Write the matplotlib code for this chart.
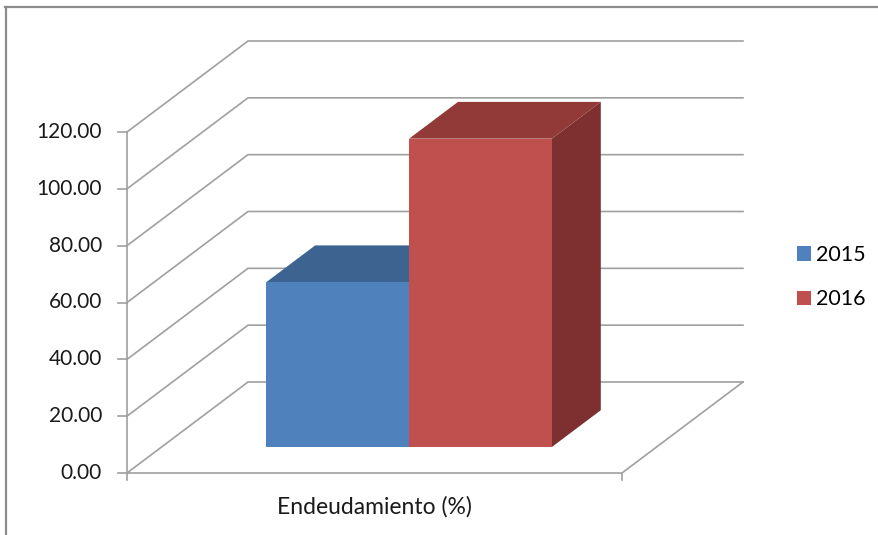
import numpy as np
import matplotlib
matplotlib.use("Agg")
import matplotlib.pyplot as plt
from matplotlib.patches import Polygon, Patch
from matplotlib.lines import Line2D

plt.rcParams['font.family'] = ['Lato', 'DejaVu Sans']

# data
category = "Endeudamiento (%)"
series = ["2015", "2016"]
values = [58.0, 108.5]
ticks = [0, 20, 40, 60, 80, 100, 120]
tick_labels = ["%.2f" % t for t in ticks]

front_cols = ["#4F81BD", "#C0504D"]
top_cols = ["#3D6390", "#913A38"]
side_cols = ["#335581", "#7D302F"]
grid_col = "#A0A0A0"

# layout in pixels (figure 879x535)
W, H = 879, 535
X0, Y0 = 127, 473          # front-left corner of the floor
PX_CAT = 495               # width of the category on the front plane
PX_VAL = 341 / 120.0       # pixels per value unit
DEPTH_PX_X, DEPTH_PX_Y = 121, 91

depth_x = DEPTH_PX_X / PX_CAT
depth_v = DEPTH_PX_Y / PX_VAL


def proj(x, v, d):
    # oblique projection: depth d in [0, 1]
    return (x + d * depth_x, v + d * depth_v)


fig = plt.figure(figsize=(W / 100, H / 100), dpi=100)
ax = fig.add_axes([0, 0, 1, 1])
ax.set_xlim(-X0 / PX_CAT, (W - X0) / PX_CAT)
ax.set_ylim(-(H - Y0) / PX_VAL, Y0 / PX_VAL)
ax.axis("off")

lw = 1.2
# walls: back wall gridlines and side wall lines
for t, lab in zip(ticks, tick_labels):
    a = proj(0, t, 0)
    b = proj(0, t, 1)
    c = proj(1, t, 1)
    ax.plot([a[0], b[0], c[0]], [a[1], b[1], c[1]], color=grid_col, lw=lw, zorder=1,
            solid_joinstyle="miter")
    # tick mark on the value axis
    ax.plot([a[0] - 9 / PX_CAT, a[0]], [a[1], a[1]], color=grid_col, lw=lw, zorder=1)
    ax.text(a[0] - 25 / PX_CAT, a[1], lab, ha="right", va="center",
            fontsize=15, color="#1a1a1a")

# value axis and floor
p = [proj(0, ticks[-1], 0), proj(0, 0, 0), proj(1, 0, 0), proj(1, 0, 1)]
ax.plot([q[0] for q in p], [q[1] for q in p], color=grid_col, lw=lw, zorder=1,
        solid_joinstyle="miter")
for xx in [0, 1]:
    ax.plot([xx, xx], [0, -7 / PX_VAL], color=grid_col, lw=lw, zorder=1)

# bars
bar_w = 0.2885
d0, d1 = 0.286, 0.69
lefts = [0.5 - bar_w, 0.5]
for i, (v, l) in enumerate(zip(values, lefts)):
    r = l + bar_w
    side = [proj(r, 0, d0), proj(r, 0, d1), proj(r, v, d1), proj(r, v, d0)]
    top = [proj(l, v, d0), proj(r, v, d0), proj(r, v, d1), proj(l, v, d1)]
    front = [proj(l, 0, d0), proj(r, 0, d0), proj(r, v, d0), proj(l, v, d0)]
    z = 3 + i
    ax.add_patch(Polygon(side, closed=True, fc=side_cols[i], ec="none", zorder=z))
    ax.add_patch(Polygon(top, closed=True, fc=top_cols[i], ec="none", zorder=z))
    ax.add_patch(Polygon(front, closed=True, fc=front_cols[i], ec="none", zorder=z))

# category label
ax.text(0.5, -(507 - Y0) / PX_VAL, category, ha="center", va="center",
        fontsize=16.5, color="#1a1a1a")

# legend
handles = [Patch(fc=c, ec="none") for c in front_cols]
fig.legend(handles, series, loc="upper left",
           bbox_to_anchor=(797 / W, 1 - 245 / H), frameon=False,
           borderpad=0, borderaxespad=0, handlelength=0.65, handleheight=0.65,
           handletextpad=0.25, labelspacing=1.13, fontsize=15.5)

# chart border (top and left edges)
fig.add_artist(Line2D([5 / W, 1], [1 - 6.5 / H, 1 - 6.5 / H], transform=fig.transFigure,
                      color="#8C8C8C", lw=1.6))
fig.add_artist(Line2D([6.5 / W, 6.5 / W], [0, 1 - 6.5 / H], transform=fig.transFigure,
                      color="#8C8C8C", lw=1.6))

fig.savefig("out.png", dpi=100)
